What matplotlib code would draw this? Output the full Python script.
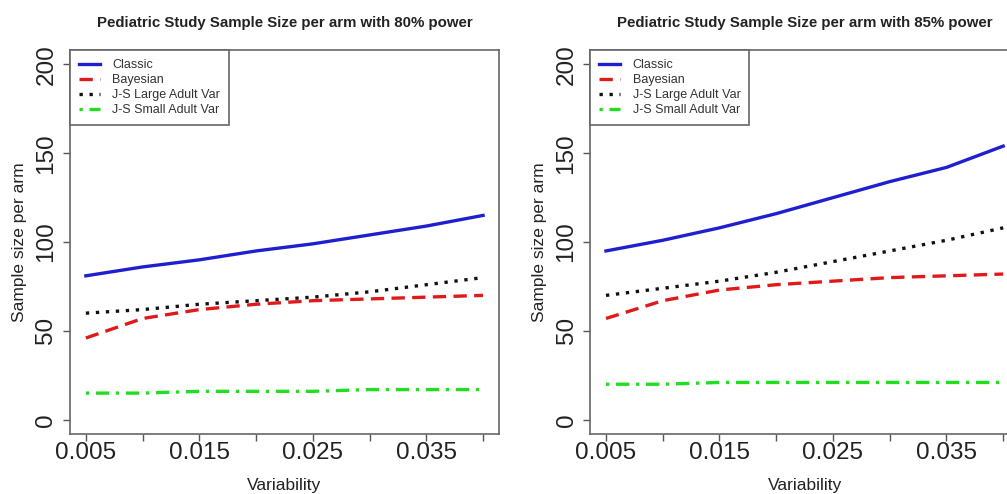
import matplotlib.pyplot as plt
from matplotlib.lines import Line2D

plt.rcParams["font.family"] = ["Liberation Sans", "DejaVu Sans"]

variability = [0.005, 0.010, 0.015, 0.020, 0.025, 0.030, 0.035, 0.040]
series_names = ["Classic", "Bayesian", "J-S Large Adult Var", "J-S Small Adult Var"]

# 80% power
classic_80 = [81, 86, 90, 95, 99, 104, 109, 115]
bayes_80 = [46, 57, 62, 65, 67, 68, 69, 70]
js_large_80 = [60, 62, 65, 67, 69, 72, 76, 80]
js_small_80 = [15, 15, 16, 16, 16, 17, 17, 17]

# 85% power
classic_85 = [95, 101, 108, 116, 125, 134, 142, 154]
bayes_85 = [57, 67, 73, 76, 78, 80, 81, 82]
js_large_85 = [70, 74, 78, 83, 89, 95, 101, 108]
js_small_85 = [20, 20, 21, 21, 21, 21, 21, 21]

titles = ["Pediatric Study Sample Size per arm with 80% power",
          "Pediatric Study Sample Size per arm with 85% power"]

styles = [
    dict(color="#1f1fd0", linestyle="-", linewidth=2.4),
    dict(color="#e01a1a", linestyle=(0, (4, 2.2)), linewidth=2.4),
    dict(color="#111111", linestyle=(0, (1, 2)), linewidth=2.4),
    dict(color="#22dd22", linestyle=(0, (1, 2, 4, 2)), linewidth=2.4),
]

panels = [
    [classic_80, bayes_80, js_large_80, js_small_80],
    [classic_85, bayes_85, js_large_85, js_small_85],
]

fig = plt.figure(figsize=(10.07, 4.94), dpi=100)
positions = [[0.0695, 0.1215, 0.426, 0.777], [0.586, 0.1215, 0.426, 0.777]]

for pos, title, data in zip(positions, titles, panels):
    ax = fig.add_axes(pos)
    for values, st in zip(data, styles):
        ax.plot(variability, values, **st)
    ax.set_xlim(0.0036, 0.0414)
    ax.set_ylim(-8, 208)
    ax.set_xticks(variability)
    ax.set_xticklabels(["0.005", "", "0.015", "", "0.025", "", "0.035", ""])
    ax.set_yticks([0, 50, 100, 150, 200])
    ax.set_yticklabels(["0", "50", "100", "150", "200"], rotation=90, va="center")
    ax.tick_params(axis="both", direction="out", length=5, width=1,
                   colors="#555555", labelcolor="#222222", labelsize=17.5)
    ax.tick_params(axis="x", pad=1)
    ax.tick_params(axis="y", pad=4)
    for sp in ax.spines.values():
        sp.set_color("#666666")
        sp.set_linewidth(1.2)
    ax.set_title(title, fontsize=10.8, fontweight="bold", pad=17, color="#222222")
    ax.set_xlabel("Variability", fontsize=12.5, color="#222222", labelpad=10)
    ax.set_ylabel("Sample size per arm", fontsize=12.5, color="#222222", labelpad=6)
    handles = [Line2D([], [], **st) for st in styles]
    leg = ax.legend(handles, series_names, loc="upper left", bbox_to_anchor=(0, 1),
                    borderaxespad=0, fontsize=9, handlelength=1.7, handletextpad=1.0,
                    labelspacing=0.25, fancybox=False, framealpha=1,
                    edgecolor="#666666", borderpad=0.7)
    leg.get_frame().set_linewidth(1.2)
    for t in leg.get_texts():
        t.set_color("#333333")

fig.savefig("out.png", dpi=100)
